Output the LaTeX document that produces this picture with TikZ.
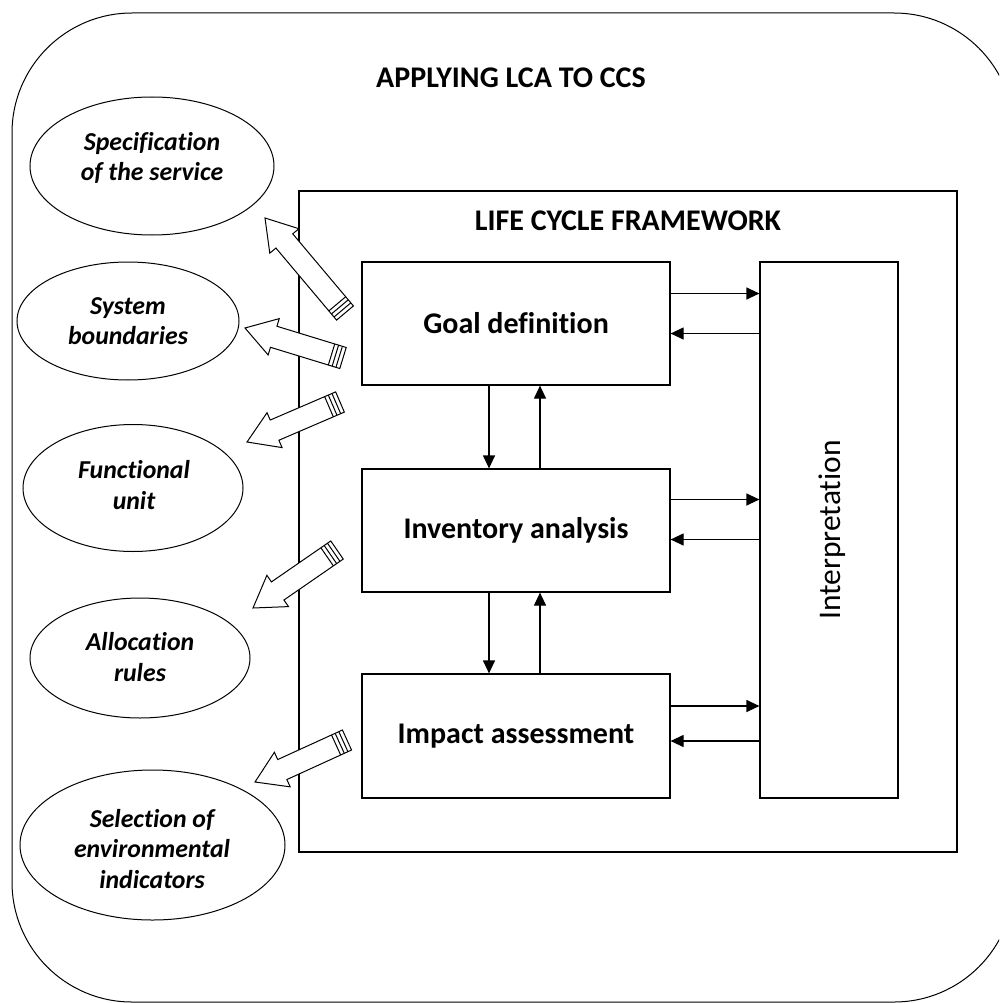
\documentclass[tikz,border=0pt]{standalone}
\usepackage{fontspec}
\setmainfont[Ligatures={NoCommon}]{Carlito}
\usetikzlibrary{shapes.geometric,arrows.meta,calc}
\newcommand\fatarrow[2]{%
  \draw[fat] ($(#1)!11pt!90:(#2)$) -- ($(#2)!30pt!(#1)!11pt!-90:(#1)$) -- ($(#2)!30pt!(#1)!19pt!-90:(#1)$) -- (#2) -- ($(#2)!30pt!(#1)!19pt!90:(#1)$) -- ($(#2)!30pt!(#1)!11pt!90:(#1)$) -- ($(#1)!11pt!-90:(#2)$) -- cycle;
  \foreach \k in {4pt,8pt,12pt} \draw[line width=1pt] ($(#1)!\k!(#2)!11pt!90:(#2)$) -- ($(#1)!\k!(#2)!11pt!-90:(#2)$);
}
\begin{document}
\begin{tikzpicture}[x=1pt,y=-1pt,line width=1.2pt,
  box/.style={draw,line width=1.2pt,inner sep=0pt},
  bigtxt/.style={font=\fontsize{30}{36}\selectfont\bfseries},
  regtxt/.style={font=\fontsize{31.5}{36}\selectfont},
  elltxt/.style={font=\fontsize{25.8}{30.5}\selectfont\bfseries\itshape,align=center},
  oval/.style={draw,ellipse,line width=1pt,inner sep=0pt},
  thinarr/.style={-{Triangle[length=13pt,width=12pt]},line width=1.2pt},
  fat/.style={draw,line width=1pt,line join=miter,fill=white}]
\useasboundingbox (0,0) rectangle (999,1003);
\clip (0,0) rectangle (999,1003);
\draw[line width=1pt,rounded corners=120pt] (12,13) rectangle (1014,1002);
\node[bigtxt] (title) at (511,78) {APPLYING LCA TO CCS};

\node[box,minimum width=658pt,minimum height=661pt] (fw) at (628,521.5) {};
\node[bigtxt] (fwtitle) at (628,221) {LIFE CYCLE FRAMEWORK};

\node[box,minimum width=308pt,minimum height=123pt] (goal) at (516,323.5) {};
\node[bigtxt] at (goal) {Goal definition};
\node[box,minimum width=308pt,minimum height=123pt] (inv) at (516,530.5) {};
\node[bigtxt] at (inv) {Inventory analysis};
\node[box,minimum width=308pt,minimum height=124pt] (imp) at (516,736) {};
\node[bigtxt] at (imp) {Impact assessment};
\node[box,minimum width=138pt,minimum height=536pt] (interp) at (829,530) {};
\node[regtxt,rotate=90] at (832,530) {Interpretation};

% vertical arrows
\draw[thinarr] ($(goal.south)+(-27,0)$) -- ($(inv.north)+(-27,0)$);
\draw[thinarr] ($(inv.north)+(24,0)$) -- ($(goal.south)+(24,0)$);
\draw[thinarr] ($(inv.south)+(-27,0)$) -- ($(imp.north)+(-27,0)$);
\draw[thinarr] ($(imp.north)+(24,0)$) -- ($(inv.south)+(24,0)$);

% horizontal arrows
\coordinate (g1) at ($(goal.east)+(0,-30)$);
\coordinate (g2) at ($(goal.east)+(0,10)$);
\coordinate (i1) at ($(inv.east)+(0,-31)$);
\coordinate (i2) at ($(inv.east)+(0,9)$);
\coordinate (m1) at ($(imp.east)+(0,-30)$);
\coordinate (m2) at ($(imp.east)+(0,5)$);
\draw[thinarr] (g1) -- (g1 -| interp.west);
\draw[thinarr] (g2 -| interp.west) -- (g2);
\draw[thinarr] (i1) -- (i1 -| interp.west);
\draw[thinarr] (i2 -| interp.west) -- (i2);
\draw[thinarr] (m1) -- (m1 -| interp.west);
\draw[thinarr] (m2 -| interp.west) -- (m2);

% ellipses
\node[oval,minimum width=244pt,minimum height=138pt] (e1) at (152,166) {};
\node[elltxt] at (152,158) {Specification\\of the service};
\node[oval,minimum width=222pt,minimum height=118pt] (e2) at (128,321) {};
\node[elltxt] at (128,321) {System\\boundaries};
\node[oval,minimum width=220pt,minimum height=127pt] (e3) at (133,488) {};
\node[elltxt] at (134,485) {Functional\\unit};
\node[oval,minimum width=220pt,minimum height=120pt] (e4) at (140,658) {};
\node[elltxt] at (140,657) {Allocation\\rules};
\node[oval,minimum width=265pt,minimum height=150pt] (e5) at (152.5,845) {};
\node[elltxt] at (152,849) {Selection of\\environmental\\indicators};

% fat arrows
\coordinate (t1) at (345,313); \coordinate (h1) at (265,218);
\coordinate (t2) at (343,358); \coordinate (h2) at (245,328);
\coordinate (t3) at (340,402); \coordinate (h3) at (247,442);
\coordinate (t4) at (337,550); \coordinate (h4) at (253,608);
\coordinate (t5) at (347,740); \coordinate (h5) at (255,782);
\fatarrow{t1}{h1}
\fatarrow{t2}{h2}
\fatarrow{t3}{h3}
\fatarrow{t4}{h4}
\fatarrow{t5}{h5}
\end{tikzpicture}
\end{document}
